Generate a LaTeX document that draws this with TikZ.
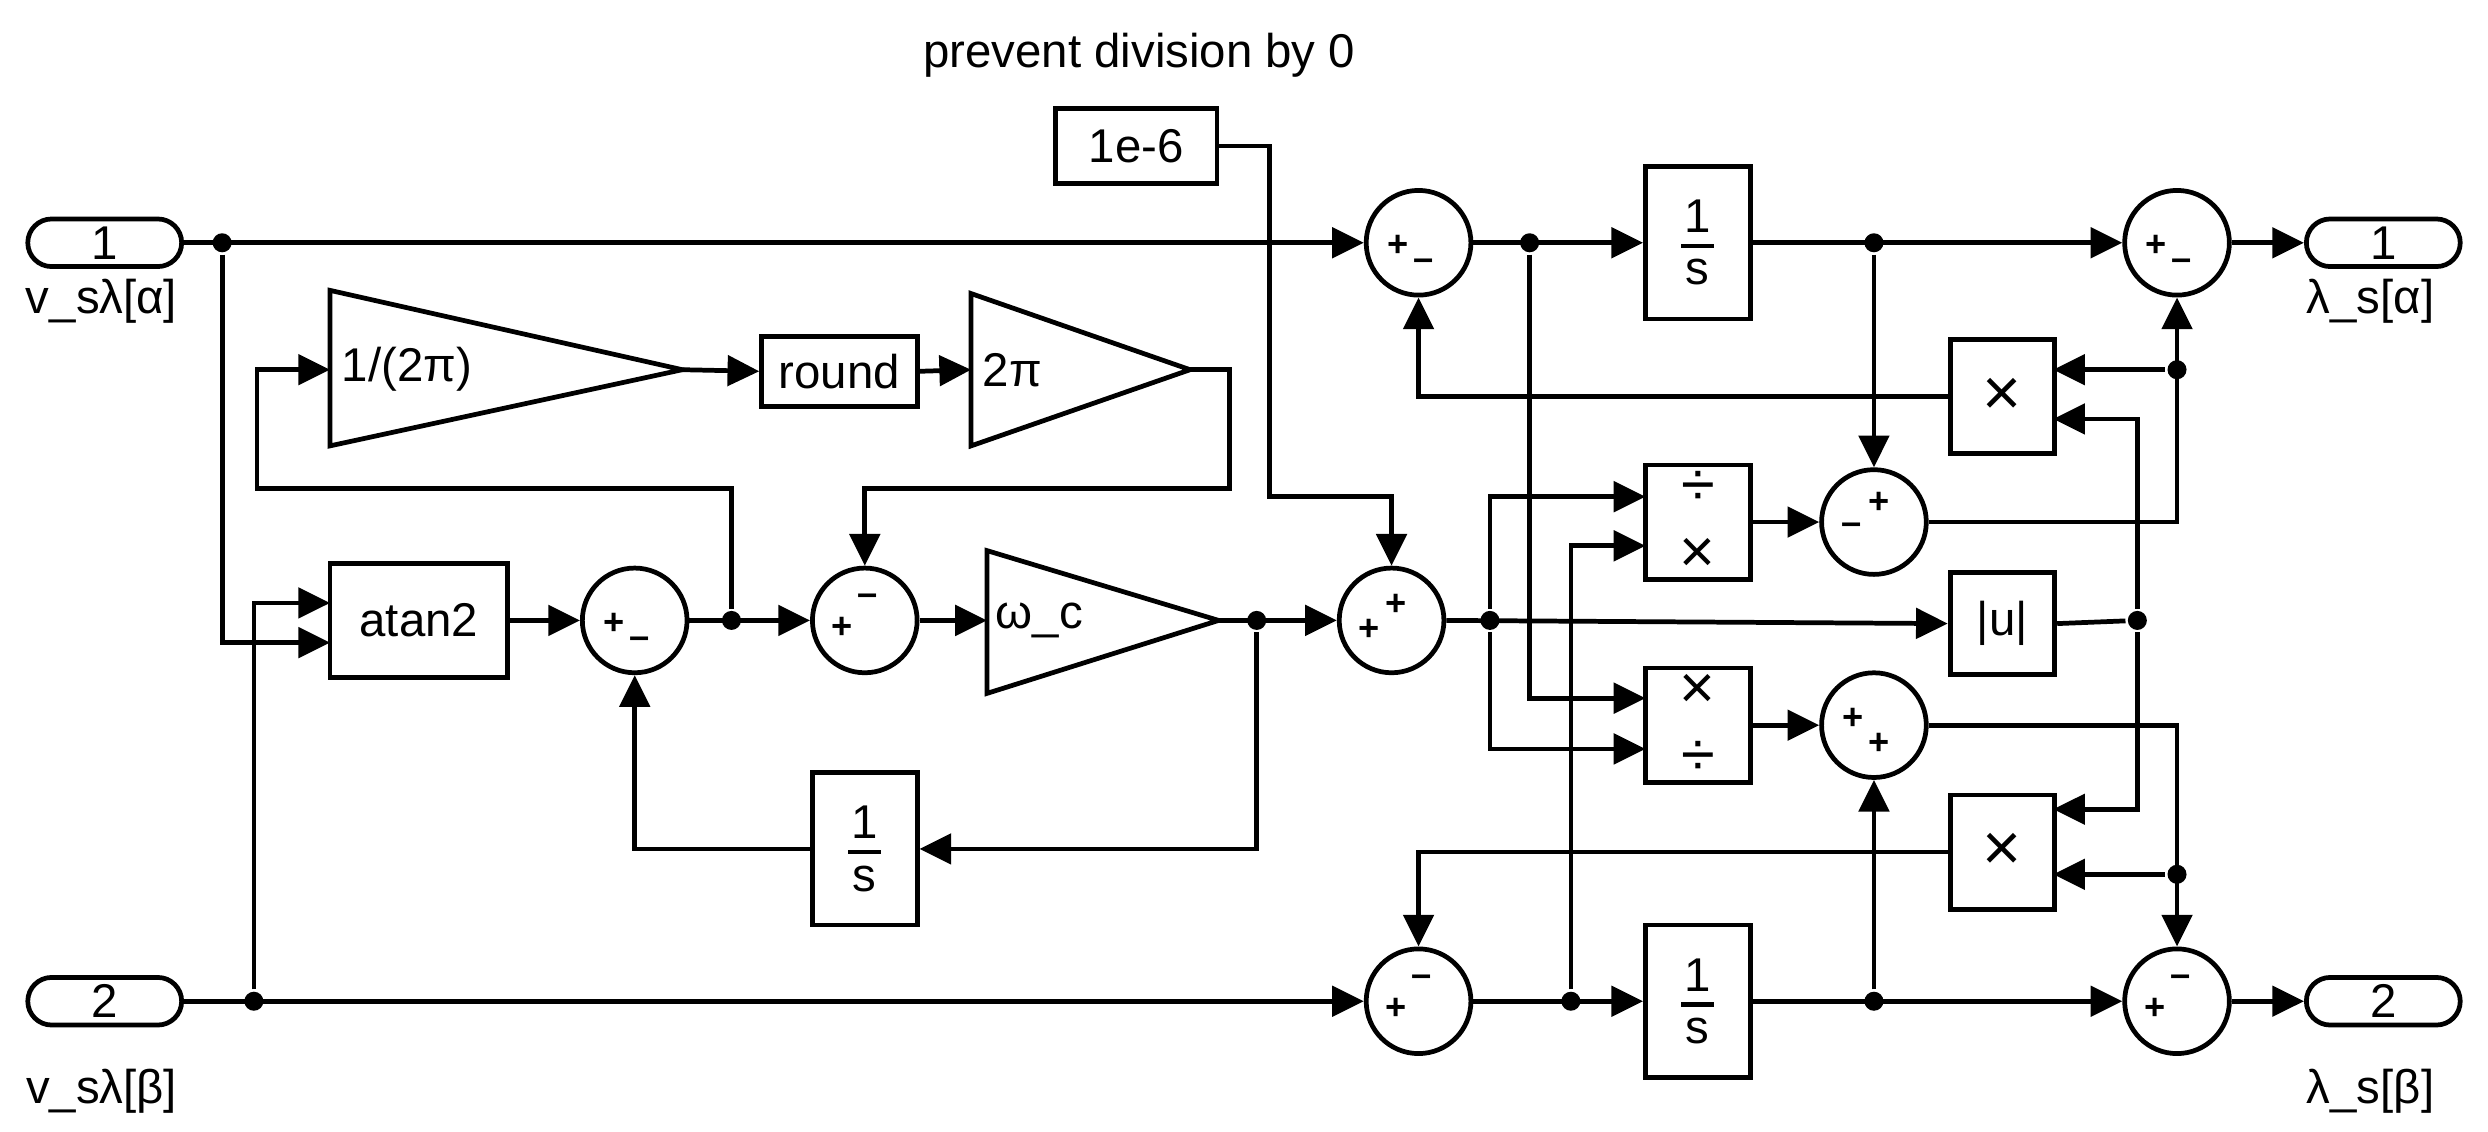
\documentclass[tikz,border=0pt]{standalone}
\usepackage{fontspec}
\setmainfont{Liberation Sans}
\usetikzlibrary{arrows.meta,calc}
\newcommand{\ff}{\fontsize{17}{19}\selectfont}
\newcommand{\fs}{\fontsize{13}{14}\selectfont\bfseries}
\newcommand{\frs}{\shortstack{1\\[1pt]\rule{0.42cm}{1.6pt}\\[1pt]s}}
\begin{document}
\begin{tikzpicture}[x=0.02cm,y=-0.02cm,line width=1.7pt,
 a/.style={-{Triangle[length=0.4cm,width=0.38cm]}},
 blk/.style={draw,fill=white,inner sep=0pt,font=\ff},
 port/.style={blk,rounded corners=0.3cm,minimum width=1.94cm,minimum height=0.6cm},
 sum/.style={draw,circle,minimum size=1.32cm,inner sep=0pt},
 sg/.style={font=\fs,inner sep=0pt},
 dot/.style={circle,fill=black,inner sep=0pt,minimum size=0.24cm},
 lab/.style={font=\ff,inner sep=0pt}]
\useasboundingbox (0,0) rectangle (1568,713);
\node[lab] (title) at (718,35) {prevent division by 0};
% ports
\node[port] (in1) at (66,153) {1};
\node[port] (in2) at (66,631) {2};
\node[port] (out1) at (1502,153) {1};
\node[port] (out2) at (1502,631) {2};
\node[lab] (lin1) at (64,190) {v\_sλ[α]};
\node[lab] (lin2) at (64,688) {v\_sλ[β]};
\node[lab] (lout1) at (1494,190) {λ\_s[α]};
\node[lab] (lout2) at (1494,688) {λ\_s[β]};
% left blocks
\node[blk,minimum width=2.24cm,minimum height=1.44cm] (atan) at (264,391) {atan2};
\coordinate (atanA) at (208,380); \coordinate (atanB) at (208,405);
\draw (208,183) -- (430,233) -- (208,281) -- cycle;
\coordinate (g1in) at (208,233); \coordinate (g1tip) at (430,233);
\node[lab,anchor=west] (g1l) at (214,233) {1/(2π)};
\node[blk,minimum width=1.96cm,minimum height=0.88cm] (round) at (529,234) {round};
\draw (612,185) -- (750,233) -- (612,281) -- cycle;
\coordinate (g2in) at (612,233); \coordinate (g2tip) at (750,233);
\node[lab,anchor=west] (g2l) at (618,233) {2π};
\draw (622,347) -- (768,391) -- (622,437) -- cycle;
\coordinate (g3in) at (622,391); \coordinate (g3tip) at (768,391);
\node[lab,anchor=west] (g3l) at (626,391) {ω\_c};
\node[blk,minimum width=1.32cm,minimum height=1.92cm] (I2) at (545,535) {\frs};
\node[blk,minimum width=2.04cm,minimum height=0.94cm] (const) at (716,92) {1e-6};
\coordinate (jc) at (800,313); \coordinate (j2) at (775,308); \coordinate (j3) at (162,308);
% sums
\node[sum] (s4) at (400,391) {};
\node[sg] at ($(s4)+(-13,2)$) {+}; \node[sg] at ($(s4)+(3,14)$) {–};
\node[sum] (s5) at (545,391) {};
\node[sg] at ($(s5)+(-14,5)$) {+}; \node[sg] at ($(s5)+(2,-13)$) {–};
\node[sum] (s2) at (877,391) {};
\node[sg] at ($(s2)+(-14,6)$) {+}; \node[sg] at ($(s2)+(3,-10)$) {+};
\node[sum] (s1) at (894,153) {};
\node[sg] at ($(s1)+(-13,2)$) {+}; \node[sg] at ($(s1)+(3,14)$) {–};
\node[sum] (s3) at (1372,153) {};
\node[sg] at ($(s3)+(-13,2)$) {+}; \node[sg] at ($(s3)+(3,14)$) {–};
\node[sum] (s6) at (1181,329) {};
\node[sg] at ($(s6)+(3,-12)$) {+}; \node[sg] at ($(s6)+(-14,4)$) {–};
\node[sum] (s7) at (1181,457) {};
\node[sg] at ($(s7)+(-13,-4)$) {+}; \node[sg] at ($(s7)+(3,12)$) {+};
\node[sum] (s9) at (894,631) {};
\node[sg] at ($(s9)+(-14,5)$) {+}; \node[sg] at ($(s9)+(2,-13)$) {–};
\node[sum] (s8) at (1372,631) {};
\node[sg] at ($(s8)+(-14,5)$) {+}; \node[sg] at ($(s8)+(2,-13)$) {–};
% right blocks
\node[blk,minimum width=1.32cm,minimum height=1.92cm] (I1) at (1070,153) {\frs};
\node[blk,minimum width=1.32cm,minimum height=1.92cm] (I3) at (1070,631) {\frs};
\node[blk,minimum width=1.32cm,minimum height=1.44cm,font=\fontsize{24}{24}\selectfont] (mx1) at (1262,250) {×};
\coordinate (mx1A) at (1294,233); \coordinate (mx1B) at (1294,264);
\node[blk,minimum width=1.32cm,minimum height=1.44cm,font=\fontsize{24}{24}\selectfont] (mx2) at (1262,537) {×};
\coordinate (mx2A) at (1294,510); \coordinate (mx2B) at (1294,551);
\node[blk,minimum width=1.32cm,minimum height=1.44cm,align=center,font=\fontsize{22}{24}\selectfont] (div1) at (1070,329) {÷\\×};
\coordinate (div1A) at (1037,313); \coordinate (div1B) at (1037,344);
\node[blk,minimum width=1.32cm,minimum height=1.44cm,align=center,font=\fontsize{22}{24}\selectfont] (div2) at (1070,457) {×\\÷};
\coordinate (div2A) at (1037,440); \coordinate (div2B) at (1037,472);
\node[blk,minimum width=1.32cm,minimum height=1.28cm] (abs) at (1262,393) {|u|};
% dots
\node[dot] (d1) at (140,153) {}; \node[dot] (d2) at (160,631) {};
\node[dot] (d3) at (461,391) {}; \node[dot] (d4) at (792,391) {};
\node[dot] (d5) at (964,153) {}; \node[dot] (d6) at (1181,153) {};
\node[dot] (d7) at (939,391) {}; \node[dot] (d8) at (1347,391) {};
\node[dot] (d9) at (1372,233) {}; \node[dot] (d10) at (1372,551) {};
\node[dot] (d11) at (990,631) {}; \node[dot] (d12) at (1181,631) {};
% connectors
\draw[a] (in1.east) -- (s1.west);
\draw[a] (in2.east) -- (s9.west);
\draw[a] (d1) |- (atanB);
\draw[a] (d2) |- (atanA);
\draw[a] (atan.east) -- (s4.west);
\draw[a] (s4.east) -- (s5.west);
\draw[a] (s5.east) -- (g3in);
\draw[a] (g3tip) -- (s2.west);
\draw[a] (d3) |- (j3) |- (g1in);
\draw[a] (g1tip) -- (round.west);
\draw[a] (round.east) -- (g2in);
\draw[a] (g2tip) -| (j2) -| (s5.north);
\draw[a] (d4) |- (I2.east);
\draw[a] (I2.west) -| (s4.south);
\draw[a] (const.east) -| (jc) -| (s2.north);
\draw[a] (s2.east) -- (abs.west);
\draw[a] (d7) |- (div1A);
\draw[a] (d7) |- (div2B);
\draw[a] (d11) |- (div1B);
\draw[a] (d5) |- (div2A);
\draw[a] (s1.east) -- (I1.west);
\draw[a] (I1.east) -- (s3.west);
\draw[a] (s3.east) -- (out1.west);
\draw[a] (d6) -- (s6.north);
\draw[a] (div1.east) -- (s6.west);
\draw[a] (s6.east) -| (s3.south);
\draw[a] (d9) -- (mx1A);
\draw (abs.east) -- (d8);
\draw[a] (d8) |- (mx1B);
\draw[a] (d8) |- (mx2A);
\draw[a] (mx1.west) -| (s1.south);
\draw[a] (div2.east) -- (s7.west);
\draw[a] (d12) -- (s7.south);
\draw[a] (s7.east) -| (s8.north);
\draw[a] (d10) -- (mx2B);
\draw[a] (mx2.west) -| (s9.north);
\draw[a] (s9.east) -- (I3.west);
\draw[a] (I3.east) -- (s8.west);
\draw[a] (s8.east) -- (out2.west);
\end{tikzpicture}
\end{document}
